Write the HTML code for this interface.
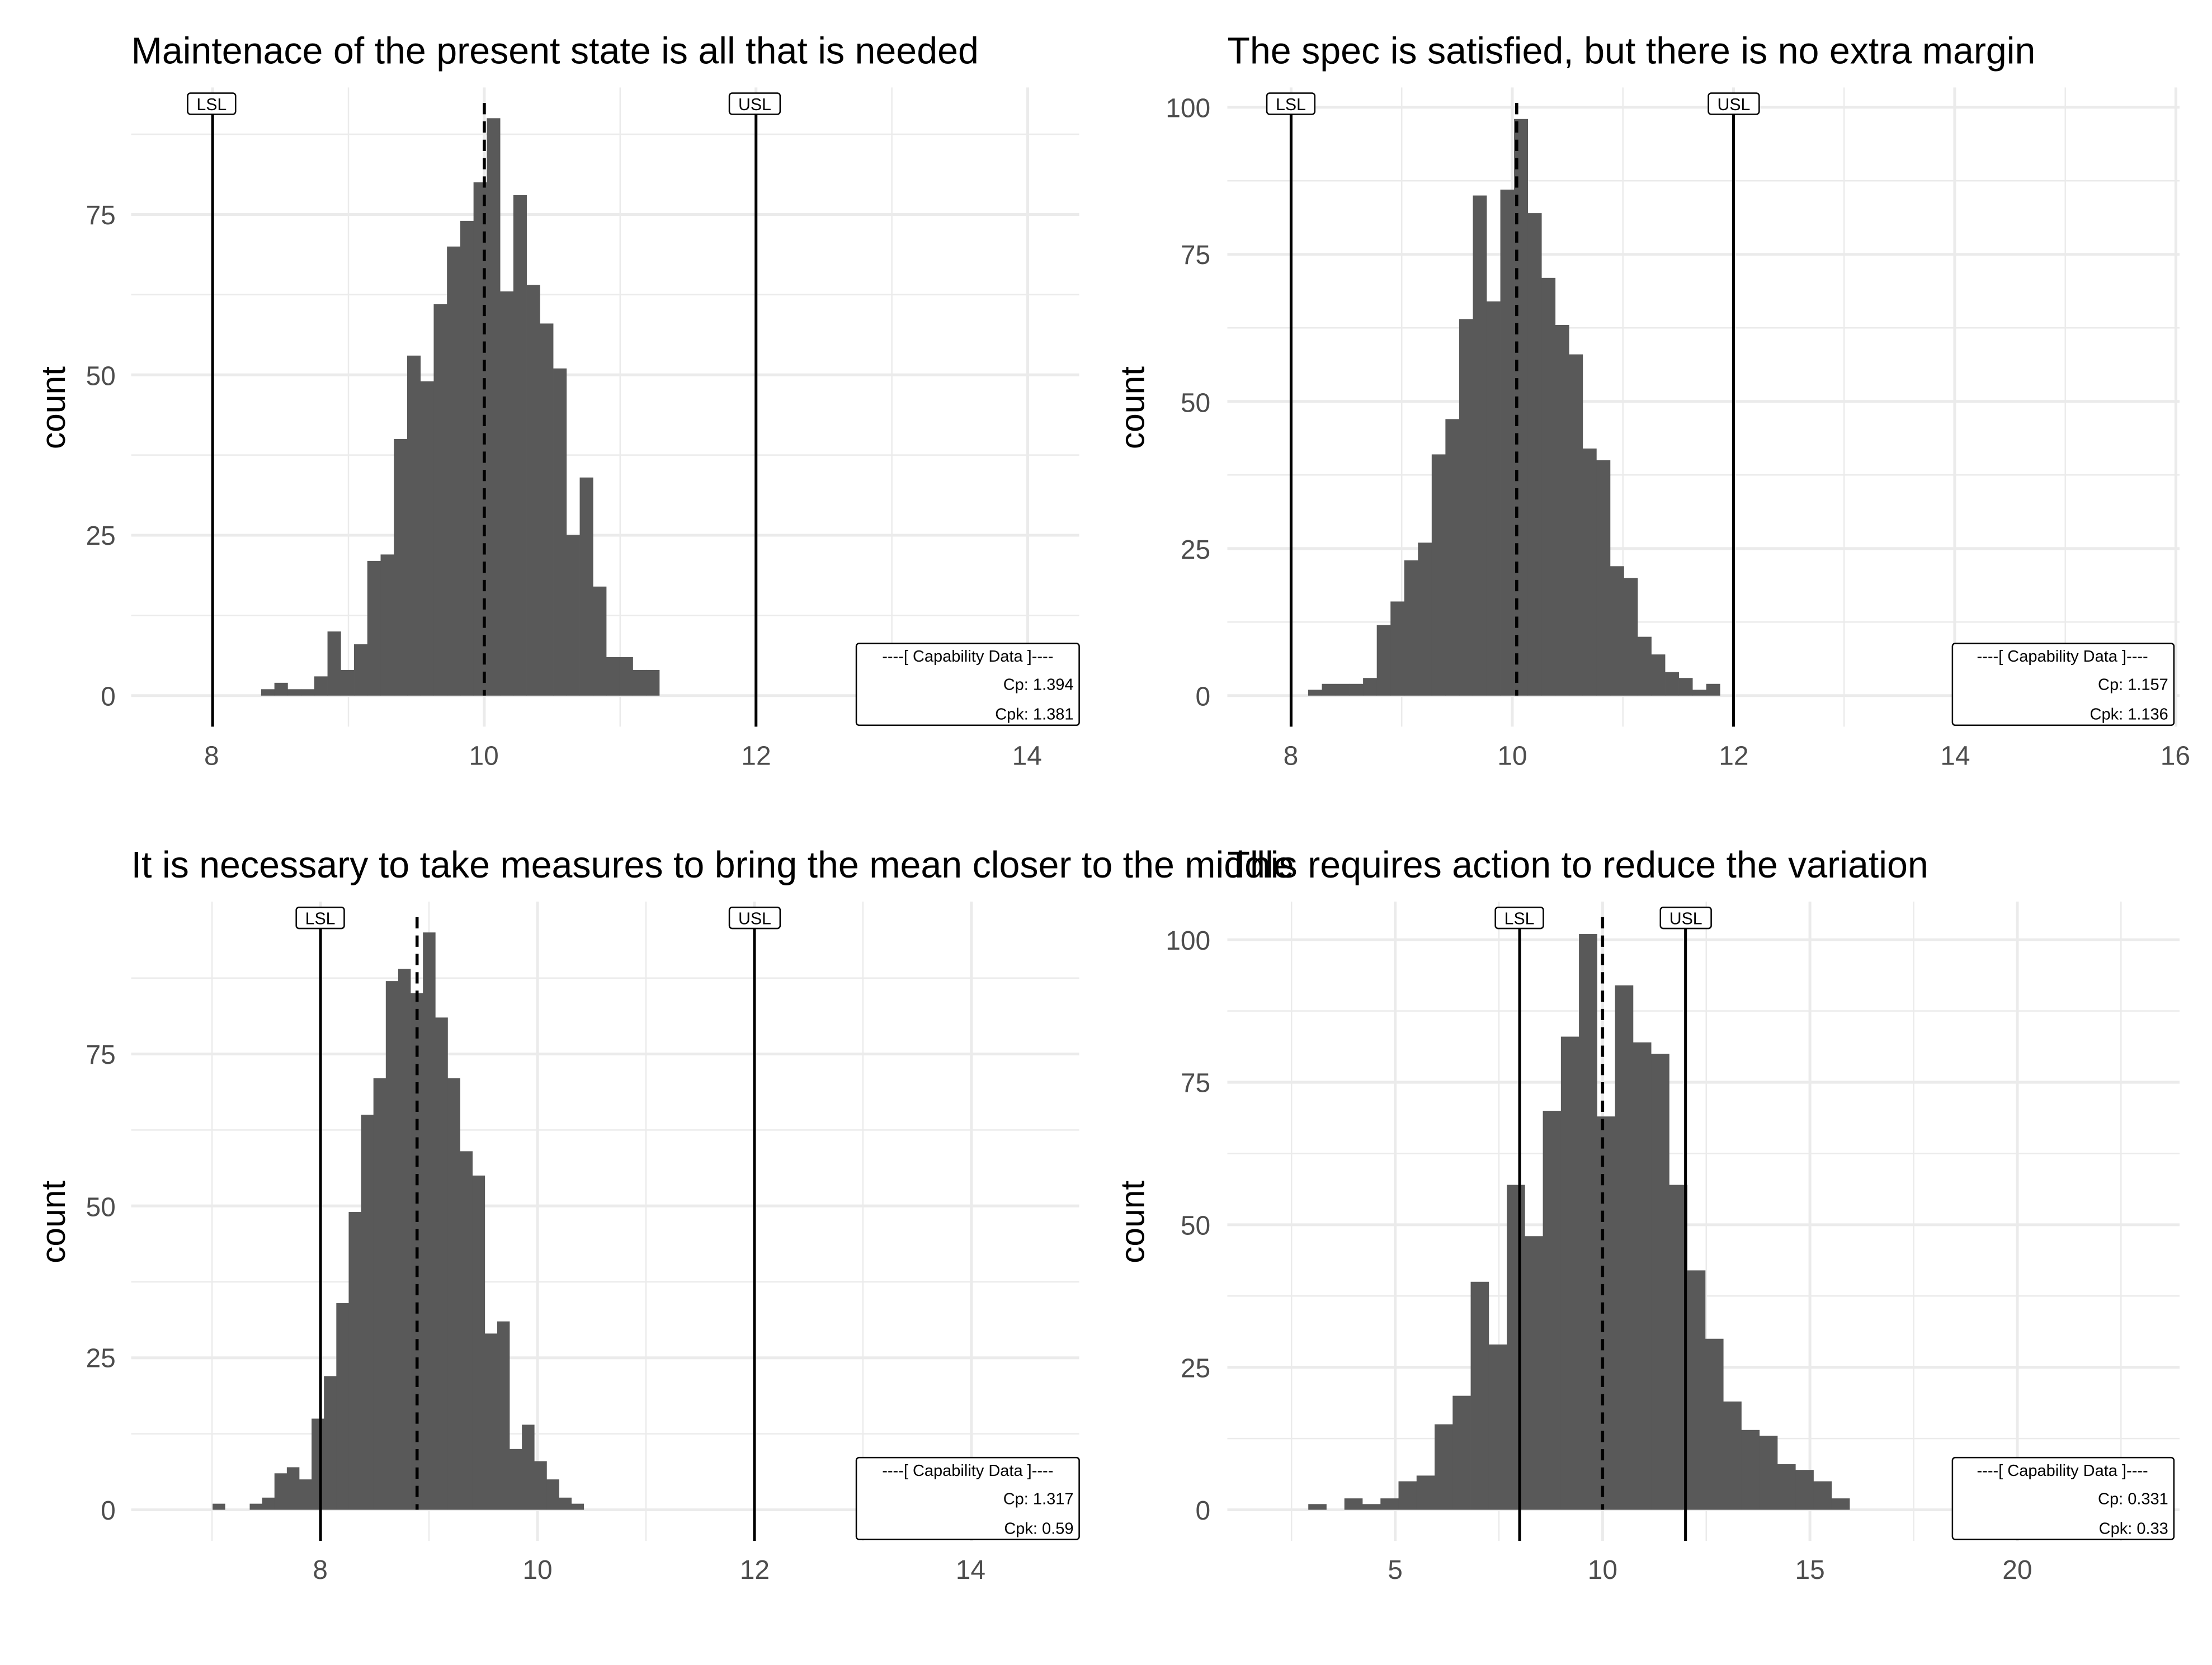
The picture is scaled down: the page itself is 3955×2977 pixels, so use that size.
<!DOCTYPE html>
<html><head><meta charset="utf-8"><style>
html,body{margin:0;padding:0;background:#fff;}
svg{display:block;}
text{font-family:"Liberation Sans",sans-serif;}
.t{font-size:26.3px;fill:#000;}
.yl{font-size:24px;fill:#000;}
.tk{font-size:19px;fill:#4d4d4d;}
.lb{font-size:12px;fill:#000;}
.cb{font-size:11.5px;fill:#000;}
</style></head><body>
<svg id="s" width="3955" height="2977" viewBox="0 0 1568 1180" preserveAspectRatio="none" xmlns="http://www.w3.org/2000/svg">
<g id="grid"></g>
<g id="bars"></g>
<g id="lines"></g>
<text class="t" x="93" y="45">Maintenace of the present state is all that is needed</text>
<text class="t" x="870" y="45">The spec is satisfied, but there is no extra margin</text>
<text class="t" x="93" y="622">It is necessary to take measures to bring the mean closer to the middle</text>
<text class="t" x="870" y="622">This requires action to reduce the variation</text>
<text class="yl" transform="translate(46,289) rotate(-90)" text-anchor="middle">count</text>
<text class="yl" transform="translate(811,289) rotate(-90)" text-anchor="middle">count</text>
<text class="yl" transform="translate(46,866) rotate(-90)" text-anchor="middle">count</text>
<text class="yl" transform="translate(811,866) rotate(-90)" text-anchor="middle">count</text>
<g class="tk" text-anchor="end">
<text x="82" y="500">0</text><text x="82" y="386">25</text><text x="82" y="273">50</text><text x="82" y="159">75</text>
<text x="858" y="500">0</text><text x="858" y="396">25</text><text x="858" y="292">50</text><text x="858" y="187">75</text><text x="858" y="83">100</text>
<text x="82" y="1077">0</text><text x="82" y="969">25</text><text x="82" y="862">50</text><text x="82" y="754">75</text>
<text x="858" y="1077">0</text><text x="858" y="976">25</text><text x="858" y="875">50</text><text x="858" y="774">75</text><text x="858" y="673">100</text>
</g>
<g class="tk" text-anchor="middle">
<text x="150" y="542">8</text><text x="343" y="542">10</text><text x="536" y="542">12</text><text x="728" y="542">14</text>
<text x="915" y="542">8</text><text x="1072" y="542">10</text><text x="1229" y="542">12</text><text x="1386" y="542">14</text><text x="1542" y="542">16</text>
<text x="227" y="1119">8</text><text x="381" y="1119">10</text><text x="535" y="1119">12</text><text x="688" y="1119">14</text>
<text x="989" y="1119">5</text><text x="1136" y="1119">10</text><text x="1283" y="1119">15</text><text x="1430" y="1119">20</text>
</g>
<g id="labels">
<rect x="133" y="66" width="34" height="15" rx="2" fill="#fff" stroke="#000" stroke-width="1"/><text class="lb" x="150" y="78" text-anchor="middle">LSL</text>
<rect x="517" y="66" width="36" height="15" rx="2" fill="#fff" stroke="#000" stroke-width="1"/><text class="lb" x="535" y="78" text-anchor="middle">USL</text>
<rect x="898" y="66" width="34" height="15" rx="2" fill="#fff" stroke="#000" stroke-width="1"/><text class="lb" x="915" y="78" text-anchor="middle">LSL</text>
<rect x="1211" y="66" width="36" height="15" rx="2" fill="#fff" stroke="#000" stroke-width="1"/><text class="lb" x="1229" y="78" text-anchor="middle">USL</text>
<rect x="210" y="643" width="34" height="15" rx="2" fill="#fff" stroke="#000" stroke-width="1"/><text class="lb" x="227" y="655" text-anchor="middle">LSL</text>
<rect x="517" y="643" width="36" height="15" rx="2" fill="#fff" stroke="#000" stroke-width="1"/><text class="lb" x="535" y="655" text-anchor="middle">USL</text>
<rect x="1060" y="643" width="34" height="15" rx="2" fill="#fff" stroke="#000" stroke-width="1"/><text class="lb" x="1077" y="655" text-anchor="middle">LSL</text>
<rect x="1177" y="643" width="36" height="15" rx="2" fill="#fff" stroke="#000" stroke-width="1"/><text class="lb" x="1195" y="655" text-anchor="middle">USL</text>
</g>
<g>
<rect x="607" y="456" width="158" height="58" rx="2" fill="#fff" stroke="#000" stroke-width="1"/>
<text class="cb" x="686" y="469" text-anchor="middle">----[ Capability Data ]----</text>
<text class="cb" x="761" y="489" text-anchor="end">Cp: 1.394</text>
<text class="cb" x="761" y="510" text-anchor="end">Cpk: 1.381</text>
<rect x="1384" y="456" width="157" height="58" rx="2" fill="#fff" stroke="#000" stroke-width="1"/>
<text class="cb" x="1462" y="469" text-anchor="middle">----[ Capability Data ]----</text>
<text class="cb" x="1537" y="489" text-anchor="end">Cp: 1.157</text>
<text class="cb" x="1537" y="510" text-anchor="end">Cpk: 1.136</text>
<rect x="607" y="1033" width="158" height="58" rx="2" fill="#fff" stroke="#000" stroke-width="1"/>
<text class="cb" x="686" y="1046" text-anchor="middle">----[ Capability Data ]----</text>
<text class="cb" x="761" y="1066" text-anchor="end">Cp: 1.317</text>
<text class="cb" x="761" y="1087" text-anchor="end">Cpk: 0.59</text>
<rect x="1384" y="1033" width="157" height="58" rx="2" fill="#fff" stroke="#000" stroke-width="1"/>
<text class="cb" x="1462" y="1046" text-anchor="middle">----[ Capability Data ]----</text>
<text class="cb" x="1537" y="1066" text-anchor="end">Cp: 0.331</text>
<text class="cb" x="1537" y="1087" text-anchor="end">Cpk: 0.33</text>
</g>
</svg>
<script>
(function(){
var NS="http://www.w3.org/2000/svg";
function el(p,n,a){var e=document.createElementNS(NS,n);for(var k in a)e.setAttribute(k,a[k]);document.getElementById(p).appendChild(e);}
var P=[
 {x0:93,x1:765,y0:62,y1:515,X:function(v){return 343.3+(v-10)*96.3},Y:function(c){return 493-c*4.547},
  xM:[8,10,12,14],xm:[9,11,13],yM:[0,25,50,75],ym:[12.5,37.5,62.5,87.5],
  bs:185.1,bw:9.41,h:[1,2,1,1,3,10,4,8,21,22,40,53,49,61,70,74,80,90,63,78,64,58,51,25,34,17,6,6,4,4],
  spec:[8,12],mean:10.0,st:81,mt:73},
 {x0:870,x1:1545,y0:62,y1:515,X:function(v){return 1072+(v-10)*78.4},Y:function(c){return 493-c*4.17},
  xM:[8,10,12,14,16],xm:[9,11,13,15],yM:[0,25,50,75,100],ym:[12.5,37.5,62.5,87.5],
  bs:927.3,bw:9.73,h:[1,2,2,2,3,12,16,23,26,41,47,64,85,67,86,98,82,71,63,58,42,40,22,20,10,7,4,3,1,2],
  spec:[8,12],mean:10.04,st:81,mt:73},
 {x0:93,x1:765,y0:639,y1:1092,X:function(v){return 381+(v-10)*76.9},Y:function(c){return 1070-c*4.307},
  xM:[8,10,12,14],xm:[7,9,11,13],yM:[0,25,50,75],ym:[12.5,37.5,62.5,87.5],
  bs:150.7,bw:8.77,h:[1,0,0,1,2,6,7,5,15,22,34,49,65,71,87,89,85,95,81,71,59,55,29,31,10,14,8,5,2,1],
  spec:[8,12],mean:8.89,st:658,mt:650},
 {x0:870,x1:1545,y0:639,y1:1092,X:function(v){return 1136+(v-10)*29.4},Y:function(c){return 1070-c*4.04},
  xM:[5,10,15,20],xm:[2.5,7.5,12.5,17.5,22.5],yM:[0,25,50,75,100],ym:[12.5,37.5,62.5,87.5],
  bs:927.4,bw:12.79,h:[1,0,2,1,2,5,6,15,20,40,29,57,48,70,83,101,69,92,82,80,57,42,30,19,14,13,8,7,5,2],
  spec:[8,12],mean:10.0,st:658,mt:650}
];
P.forEach(function(p){
 p.xm.forEach(function(v){var x=p.X(v);el("grid","line",{x1:x,x2:x,y1:p.y0,y2:p.y1,stroke:"#ebebeb","stroke-width":1});});
 p.ym.forEach(function(v){var y=p.Y(v);el("grid","line",{x1:p.x0,x2:p.x1,y1:y,y2:y,stroke:"#ebebeb","stroke-width":1});});
 p.xM.forEach(function(v){var x=p.X(v);el("grid","line",{x1:x,x2:x,y1:p.y0,y2:p.y1,stroke:"#ebebeb","stroke-width":2});});
 p.yM.forEach(function(v){var y=p.Y(v);el("grid","line",{x1:p.x0,x2:p.x1,y1:y,y2:y,stroke:"#ebebeb","stroke-width":2});});
 var y0=p.Y(0);
 p.h.forEach(function(c,i){if(c<=0)return;var y=p.Y(c);el("bars","rect",{x:p.bs+i*p.bw,y:y,width:p.bw+0.15,height:y0-y,fill:"#595959"});});
 p.spec.forEach(function(v){var x=p.X(v);el("lines","line",{x1:x,x2:x,y1:p.st,y2:p.y1,stroke:"#000","stroke-width":2});});
 var mx=p.X(p.mean);el("lines","line",{x1:mx,x2:mx,y1:p.mt,y2:y0,stroke:"#000","stroke-width":2.2,"stroke-dasharray":"8 5"});
});
})();
</script>
</body></html>
